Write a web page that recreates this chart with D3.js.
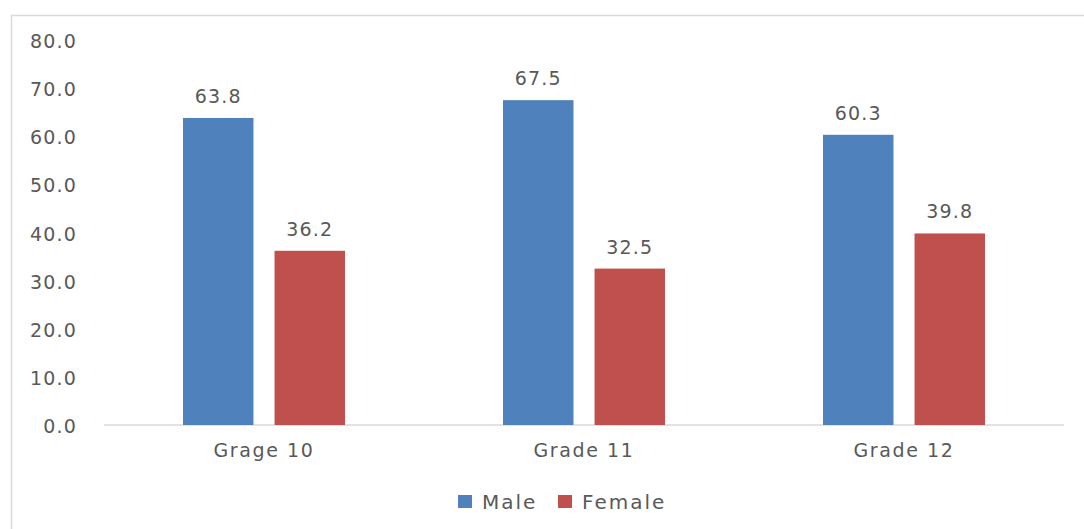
<!DOCTYPE html>
<html><head><meta charset="utf-8">
<script src="https://cdn.jsdelivr.net/npm/d3@7"></script>
<style>body{margin:0;background:#fff}svg{display:block}text{font-family:"DejaVu Sans",sans-serif;fill:#595959}</style>
</head><body>
<script>
const categories = ["Grage 10", "Grade 11", "Grade 12"];
const seriesNames = ["Male", "Female"];
const maleValues = [63.8, 67.5, 60.3];
const femaleValues = [36.2, 32.5, 39.8];
const yTicks = [0, 10, 20, 30, 40, 50, 60, 70, 80];
const colors = ["#4F81BD", "#C0504D"];

(function () {
const W = 1084, H = 529;
const svg = d3.select("body").append("svg").attr("width", W).attr("height", H);
svg.append("rect").attr("x", 11.5).attr("y", 15.5).attr("width", W).attr("height", H)
  .attr("fill", "none").attr("stroke", "#D9D9D9").attr("stroke-width", 1.5);

const mLeft = 104, mRight = 1064, mTop = 40, mBottom = 425;
const x = d3.scaleBand().domain(categories).range([mLeft, mRight]);
const y = d3.scaleLinear().domain([0, 80]).range([mBottom, mTop]);
const groupW = 162;
const inner = d3.scaleBand().domain(seriesNames).range([0, groupW]).paddingInner(0.23);
const series = [maleValues, femaleValues];

const yAxis = svg.append("g").attr("transform", `translate(${mLeft},0)`)
  .call(d3.axisLeft(y).tickValues(yTicks).tickFormat(d3.format(".1f")).tickSize(0).tickPadding(27));
yAxis.select(".domain").remove();
yAxis.selectAll("text").attr("font-size", 19).style("letter-spacing", "1.2px")
  .attr("fill", "#595959").attr("dy", "0.4em").attr("font-family", "DejaVu Sans");

svg.append("line").attr("x1", mLeft).attr("x2", mRight).attr("y1", y(0)).attr("y2", y(0))
  .attr("stroke", "#D9D9D9").attr("stroke-width", 1.5);

const xAxis = svg.append("g").attr("transform", `translate(0,${mBottom})`)
  .call(d3.axisBottom(x).tickSize(0).tickPadding(19));
xAxis.select(".domain").remove();
xAxis.selectAll("text").attr("font-size", 19).style("letter-spacing", "1.6px")
  .attr("fill", "#595959").attr("font-family", "DejaVu Sans");

seriesNames.forEach((s, si) => {
  const g = svg.append("g");
  categories.forEach((c, ci) => {
    const v = series[si][ci];
    const bx = x(c) + x.bandwidth() / 2 - groupW / 2 + inner(s);
    g.append("rect").attr("x", bx).attr("y", y(v)).attr("width", inner.bandwidth())
      .attr("height", y(0) - y(v)).attr("fill", colors[si]);
    g.append("text").attr("x", bx + inner.bandwidth() / 2).attr("y", y(v) - 15)
      .attr("text-anchor", "middle").attr("font-size", 19).style("letter-spacing", "1.2px")
      .attr("fill", "#404040").text(v.toFixed(1));
  });
});

const legendX = [458, 558];
seriesNames.forEach((s, si) => {
  svg.append("rect").attr("x", legendX[si]).attr("y", 495).attr("width", 14).attr("height", 13)
    .attr("fill", colors[si]);
  svg.append("text").attr("x", legendX[si] + 24).attr("y", 509).attr("font-size", 20)
    .style("letter-spacing", "2px").attr("fill", "#595959").text(s);
});
})();
</script>
</body></html>
